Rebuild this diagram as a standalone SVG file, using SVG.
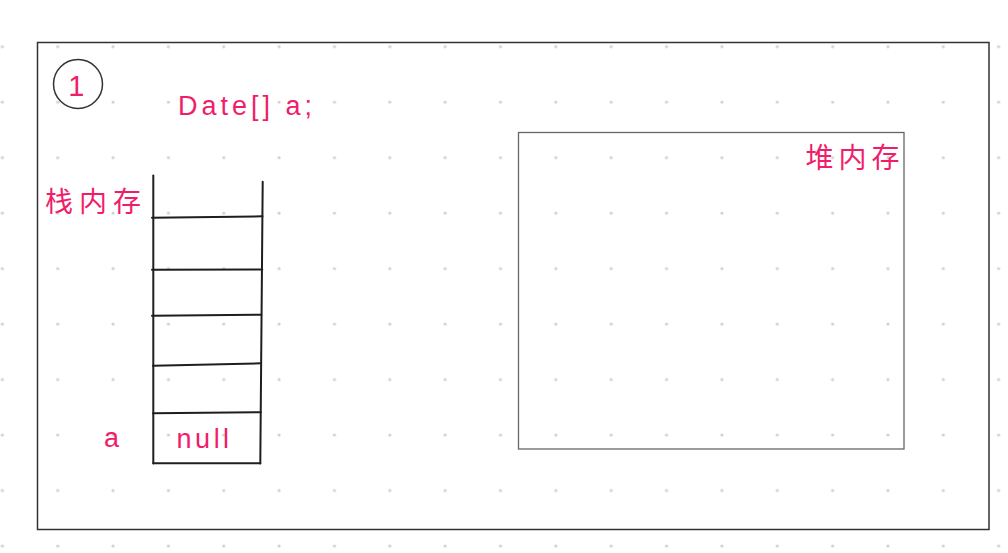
<svg xmlns="http://www.w3.org/2000/svg" width="1008" height="553" viewBox="0 0 1008 553">
  <style>
    .lbl { fill: #f01e6a; font-family: "Liberation Sans", "Noto Sans CJK SC", sans-serif; }
    .cjk { fill: #f01e6a; font-family: "Noto Sans CJK SC", "Liberation Sans", sans-serif; }
    .stack line { stroke: #1e1e1e; stroke-width: 2; stroke-linecap: round; }
  </style>
  <defs>
    <pattern id="dots" patternUnits="userSpaceOnUse" x="-25.325" y="18.96" width="55.35" height="55.48">
      <circle cx="27.675" cy="27.74" r="1.6" fill="#d0d0d0"/>
    </pattern>
  </defs>
  <rect x="0" y="0" width="1008" height="553" fill="#ffffff"/>
  <rect x="0" y="0" width="1008" height="553" fill="url(#dots)"/>

  <g id="frame">
    <rect x="37.5" y="42.5" width="951.5" height="487" fill="none" stroke="#333333" stroke-width="1.5"/>
  </g>

  <g id="step-badge">
    <circle cx="78" cy="84" r="24.5" fill="none" stroke="#333333" stroke-width="1.5"/>
    <text class="lbl" x="76.2" y="95.5" font-size="29" text-anchor="middle">1</text>
  </g>

  <g id="code-label">
    <text class="lbl" x="178" y="115" font-size="27" letter-spacing="4">Date[] a;</text>
  </g>

  <g id="stack-label">
    <text class="cjk" x="45" y="212" font-size="28" letter-spacing="6">栈内存</text>
  </g>

  <g id="stack" class="stack">
    <line x1="153.3" y1="175.5" x2="153.3" y2="463.5"/>
    <line x1="262.7" y1="181.7" x2="260.3" y2="463.5"/>
    <line x1="152" y1="217.7" x2="262.5" y2="216.3"/>
    <line x1="152" y1="269.7" x2="262.3" y2="269.5"/>
    <line x1="152" y1="315.7" x2="261.3" y2="314.7"/>
    <line x1="153" y1="365.7" x2="261" y2="363.3"/>
    <line x1="153" y1="413.3" x2="260.7" y2="412.3"/>
    <line x1="153.3" y1="463.3" x2="260.3" y2="463.3"/>
  </g>

  <g id="var-label">
    <text class="lbl" x="104" y="446.7" font-size="27">a</text>
  </g>

  <g id="null-cell">
    <text class="lbl" x="176.6" y="447.5" font-size="27" letter-spacing="3.5">null</text>
  </g>

  <g id="heap">
    <rect x="518.5" y="132.5" width="385.5" height="316.5" fill="none" stroke="#666666" stroke-width="1.3"/>
  </g>

  <g id="heap-label">
    <text class="cjk" x="805.5" y="167.5" font-size="28" letter-spacing="5">堆内存</text>
  </g>

  <g id="connectors"/>
</svg>
